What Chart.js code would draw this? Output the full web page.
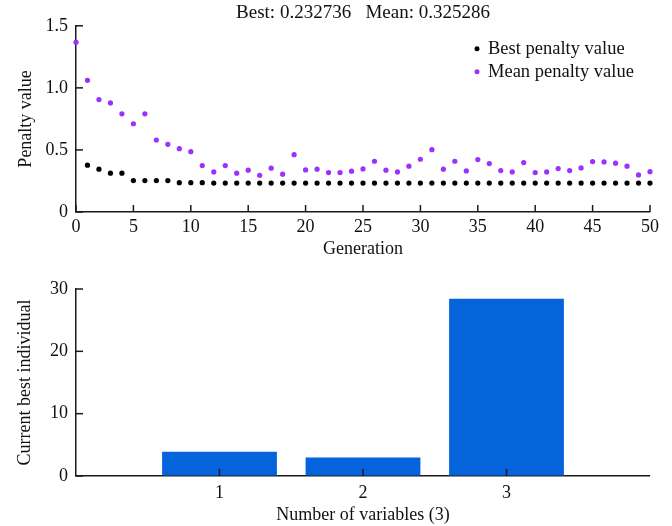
<!DOCTYPE html>
<html><head><meta charset="utf-8">
<script src="https://cdn.jsdelivr.net/npm/chart.js@4/dist/chart.umd.min.js"></script>
<style>
html,body{margin:0;padding:0;background:#fff;}
#wrap{position:relative;width:672px;height:526px;overflow:hidden;}
canvas{position:absolute;left:0;display:block;}
</style></head>
<body><div id="wrap">
<canvas id="topChart" width="672" height="265" style="top:0"></canvas>
<canvas id="botChart" width="672" height="261" style="top:265px"></canvas>
</div>
<script>
// ---------- data ----------
const generations = [0,1,2,3,4,5,6,7,8,9,10,11,12,13,14,15,16,17,18,19,20,21,22,23,24,25,26,27,28,29,30,31,32,33,34,35,36,37,38,39,40,41,42,43,44,45,46,47,48,49,50];
const bestPenalty = [null,0.377,0.345,0.313,0.313,0.253,0.253,0.253,0.253,0.236,0.236,0.236,0.2327,0.2327,0.2327,0.2327,0.2327,0.2327,0.2327,0.2327,0.2327,0.2327,0.2327,0.2327,0.2327,0.2327,0.2327,0.2327,0.2327,0.2327,0.2327,0.2327,0.2327,0.2327,0.2327,0.2327,0.2327,0.2327,0.2327,0.2327,0.2327,0.2327,0.2327,0.2327,0.2327,0.2327,0.2327,0.2327,0.2327,0.2327,0.2327];
const meanPenalty = [1.368,1.061,0.906,0.879,0.791,0.711,0.791,0.580,0.545,0.510,0.486,0.374,0.323,0.374,0.313,0.337,0.296,0.353,0.305,0.462,0.339,0.345,0.318,0.318,0.329,0.347,0.409,0.337,0.323,0.369,0.425,0.502,0.345,0.409,0.331,0.422,0.390,0.334,0.323,0.398,0.318,0.323,0.350,0.334,0.355,0.406,0.403,0.393,0.369,0.299,0.325];
const seriesLabels = ['Best penalty value','Mean penalty value'];
const titleText = 'Best: 0.232736   Mean: 0.325286';
const penaltyTicks = [0, 0.5, 1.0, 1.5];
const generationTicks = [0,5,10,15,20,25,30,35,40,45,50];

const variableNumbers = [1, 2, 3];
const bestIndividual = [3.9, 2.95, 28.45];
const individualTicks = [0, 10, 20, 30];

// ---------- style ----------
const FONT = '"Liberation Serif","Times New Roman",serif';
const INK = '#111';
const AXIS = '#1a1a1a';
const BLACK_DOT = '#000';
const PURPLE_DOT = '#9b30ff';
const BAR_BLUE = '#0563dc';

Chart.defaults.font.family = FONT;
Chart.defaults.font.size = 18;
Chart.defaults.color = INK;
Chart.defaults.animation = false;

function axisGrid() {
  return { drawOnChartArea: false, drawTicks: false, tickLength: 0, color: AXIS, lineWidth: 1.2 };
}
function axisBorder() { return { display: true, color: AXIS, width: 1.5 }; }

// inward (MATLAB-style) tick marks, positioned by the chart's own scales
const inwardTicks = {
  id: 'inwardTicks',
  afterDraw(chart) {
    const ctx = chart.ctx;
    const area = chart.chartArea;
    const xs = chart.scales.x, ys = chart.scales.y;
    const len = 7;
    ctx.save();
    ctx.strokeStyle = AXIS;
    ctx.lineWidth = 1.5;
    const xv = xs.ticks.map(t => t.value);
    const yv = ys.ticks.map(t => t.value);
    for (const v of xv) {
      const px = xs.getPixelForValue(v);
      ctx.beginPath();
      ctx.moveTo(px, area.bottom);
      ctx.lineTo(px, area.bottom - len);
      ctx.stroke();
    }
    for (const v of yv) {
      const py = ys.getPixelForValue(v);
      ctx.beginPath();
      ctx.moveTo(area.left, py);
      ctx.lineTo(area.left + len, py);
      ctx.stroke();
    }
    ctx.restore();
  }
};

const innerLegend = {
  id: 'innerLegend',
  afterDraw(chart) {
    const {ctx, chartArea} = chart;
    ctx.save();
    ctx.font = '18.5px ' + FONT;
    ctx.textBaseline = 'middle';
    ctx.textAlign = 'left';
    chart.data.datasets.forEach((ds, i) => {
      const x = chartArea.right - 173;
      const y = chartArea.top + 23 + i * 23;
      ctx.fillStyle = ds.backgroundColor;
      ctx.beginPath(); ctx.arc(x, y, 2.5, 0, Math.PI * 2); ctx.fill();
      ctx.fillStyle = INK;
      ctx.fillText(ds.label, x + 11, y);
    });
    ctx.restore();
  }
};

// ---------- top chart ----------
new Chart(document.getElementById('topChart'), {
  type: 'scatter',
  data: {
    datasets: [
      { label: seriesLabels[0], data: generations.map((g, i) => ({x: g, y: bestPenalty[i]})),
        backgroundColor: BLACK_DOT, borderWidth: 0, pointRadius: 2.6, clip: false },
      { label: seriesLabels[1], data: generations.map((g, i) => ({x: g, y: meanPenalty[i]})),
        backgroundColor: PURPLE_DOT, borderWidth: 0, pointRadius: 2.6, clip: false }
    ]
  },
  options: {
    responsive: false,
    devicePixelRatio: 1,
    layout: { padding: { left: 0, right: 22, top: 0, bottom: 0 } },
    plugins: {
      legend: { display: false },
      tooltip: { enabled: false },
      title: { display: true, text: titleText, fullSize: false, color: INK,
               font: { size: 19, weight: 'normal' }, padding: { top: 2, bottom: 1 } }
    },
    scales: {
      x: {
        type: 'linear', min: 0, max: 50,
        afterBuildTicks: s => { s.ticks = generationTicks.map(v => ({value: v})); },
        afterFit: s => { s.height = 53; },
        grid: axisGrid(), border: axisBorder(),
        ticks: { padding: 4, maxRotation: 0, color: INK },
        title: { display: true, text: 'Generation', color: INK, padding: { top: 0, bottom: 5 } }
      },
      y: {
        min: 0, max: 1.5,
        afterBuildTicks: s => { s.ticks = penaltyTicks.map(v => ({value: v})); },
        afterFit: s => { s.width = 76; },
        grid: axisGrid(), border: axisBorder(),
        ticks: { padding: 8, color: INK, callback: v => v === 0 ? '0' : v.toFixed(1) },
        title: { display: true, text: 'Penalty value', color: INK, padding: { top: 15, bottom: 0 } }
      }
    }
  },
  plugins: [inwardTicks, innerLegend]
});

// ---------- bottom chart ----------
new Chart(document.getElementById('botChart'), {
  type: 'bar',
  data: {
    datasets: [
      { label: 'Current best individual', data: variableNumbers.map((c, i) => ({x: c, y: bestIndividual[i]})),
        backgroundColor: BAR_BLUE, borderWidth: 0, barPercentage: 0.8, categoryPercentage: 1.0 }
    ]
  },
  options: {
    responsive: false,
    devicePixelRatio: 1,
    layout: { padding: { left: 0, right: 22, top: 24, bottom: 0 } },
    plugins: { legend: { display: false }, tooltip: { enabled: false } },
    scales: {
      x: {
        type: 'linear', min: 0, max: 4, offset: false,
        afterBuildTicks: s => { s.ticks = variableNumbers.map(v => ({value: v})); },
        afterFit: s => { s.height = 50; },
        grid: Object.assign(axisGrid(), { offset: false }), border: axisBorder(),
        ticks: { padding: 6, maxRotation: 0, color: INK },
        title: { display: true, text: 'Number of variables (3)', color: INK, padding: { top: 0, bottom: 0 } }
      },
      y: {
        min: 0, max: 30,
        afterBuildTicks: s => { s.ticks = individualTicks.map(v => ({value: v})); },
        afterFit: s => { s.width = 76; },
        grid: axisGrid(), border: axisBorder(),
        ticks: { padding: 8, color: INK },
        title: { display: true, text: 'Current best individual', color: INK, padding: { top: 14, bottom: 0 } }
      }
    }
  },
  plugins: [inwardTicks]
});
</script>
</body></html>
